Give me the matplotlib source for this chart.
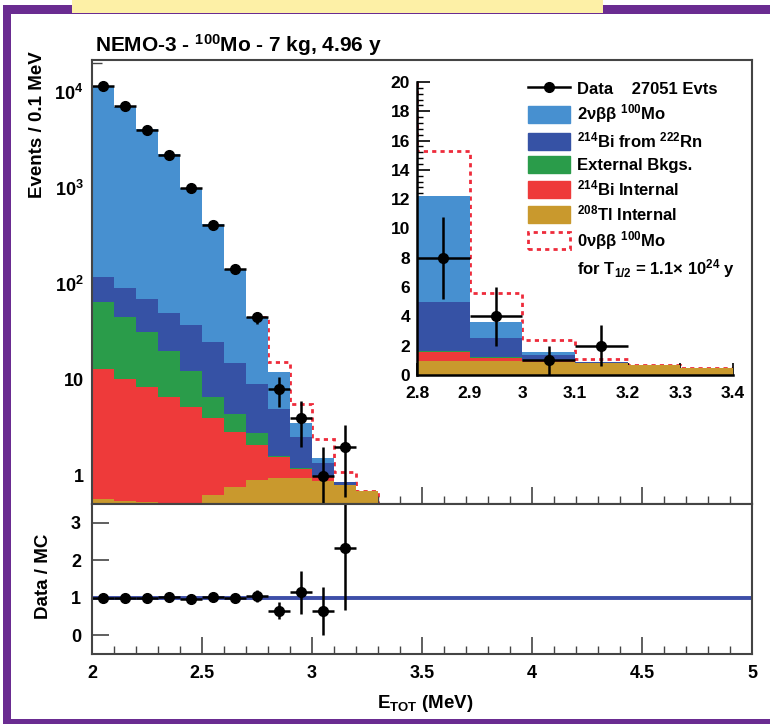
import numpy as np
import matplotlib
matplotlib.use("Agg")
import matplotlib.pyplot as plt
from matplotlib.patches import Rectangle, Patch
from matplotlib.lines import Line2D
from matplotlib.ticker import MultipleLocator, FixedLocator, LogLocator, NullFormatter, FuncFormatter

plt.rcParams['font.family'] = ['Liberation Sans', 'DejaVu Sans']
plt.rcParams['font.weight'] = 'bold'
plt.rcParams['mathtext.fontset'] = 'custom'
plt.rcParams['mathtext.rm'] = 'Liberation Sans:bold'
plt.rcParams['mathtext.it'] = 'Liberation Sans:italic:bold'
plt.rcParams['mathtext.bf'] = 'Liberation Sans:bold'

# bins of 0.1 MeV
bin_edges = [2.0, 2.1, 2.2, 2.3, 2.4, 2.5, 2.6, 2.7, 2.8, 2.9, 3.0, 3.1, 3.2, 3.3, 3.4]

# MC components, bottom to top of the stack
tl208_int = [0.58, 0.55, 0.53, 0.52, 0.51, 0.63, 0.77, 0.91, 0.95, 0.95, 0.88, 0.80, 0.70, 0.50]
bi214_int = [12.4, 9.65, 7.97, 6.18, 4.69, 3.37, 2.13, 1.19, 0.63, 0.22, 0.10, 0.0, 0.0, 0.0]
external = [52.0, 34.8, 23.5, 13.3, 7.3, 2.7, 1.5, 0.7, 0.04, 0.03, 0.02, 0.0, 0.0, 0.0]
bi214_rn = [53.0, 45.0, 37.0, 30.0, 24.5, 18.3, 10.6, 6.3, 3.38, 1.35, 0.38, 0.07, 0.0, 0.0]
two_nu = [11082, 6910, 4031, 2200, 963, 395, 130, 35.9, 7.2, 1.05, 0.17, 0.0, 0.0, 0.0]
zero_nu = [0.0, 0.0, 0.0, 0.0, 0.0, 0.0, 0.0, 0.4, 3.1, 2.0, 0.85, 0.23, 0.0, 0.0]

# data
data_x = [2.05, 2.15, 2.25, 2.35, 2.45, 2.55, 2.65, 2.75, 2.85, 2.95, 3.05, 3.15]
data_y = [11500, 7100, 4000, 2200, 990, 410, 142, 45, 8, 4, 1, 2]
data_err = [107, 84, 63, 47, 31, 20, 12, 6.7, 2.8, 2.0, 1.0, 1.4]

# data / MC
ratio_y = [1.0, 1.0, 0.99, 1.03, 0.98, 1.02, 1.0, 1.05, 0.66, 1.15, 0.65, 2.33]
ratio_err = [0.01, 0.01, 0.02, 0.02, 0.03, 0.05, 0.08, 0.15, 0.22, 0.57, 0.65, 1.65]

labels = ["2νββ $^{100}$Mo", "$^{214}$Bi from $^{222}$Rn", "External Bkgs.",
          "$^{214}$Bi Internal", "$^{208}$Tl Internal"]
colors = {"two_nu": "#4790d0", "bi214_rn": "#3652a5", "external": "#2a9c4a",
          "bi214_int": "#ee3a3a", "tl208_int": "#c9992d"}
sig_color = "#ee2b3b"
frame_col = "#444444"

stack = [tl208_int, bi214_int, external, bi214_rn, two_nu]
stack_cols = [colors["tl208_int"], colors["bi214_int"], colors["external"],
              colors["bi214_rn"], colors["two_nu"]]
tops = np.cumsum(np.array(stack), axis=0)
total_sig = tops[-1] + np.array(zero_nu)


def draw_stack(ax, base):
    # signal + background outline goes under the stack, shows where it sticks out
    outline = ax.stairs(total_sig, bin_edges, baseline=None, color=sig_color, lw=2,
                        linestyle=(0, (1.5, 1.5)), zorder=1)
    prev = np.full(len(bin_edges) - 1, base)
    for top, col in zip(tops, stack_cols):
        ax.stairs(top, bin_edges, baseline=prev, fill=True, color=col, lw=0, zorder=2)
        prev = top
    ax.errorbar(data_x, data_y, yerr=data_err, xerr=0.05, fmt='o', color='black',
                ms=7, elinewidth=1.8, capsize=0, zorder=5)
    return outline


def style(ax, lw=1.5):
    for s in ax.spines.values():
        s.set_color(frame_col)
        s.set_linewidth(lw)
        s.set_zorder(6)


fig = plt.figure(figsize=(7.7, 7.26), dpi=100)
W, H = 770.0, 726.0

def box(x0, y0, x1, y1):
    return [x0 / W, 1 - y1 / H, (x1 - x0) / W, (y1 - y0) / H]

# main log panel
ax = fig.add_axes(box(92, 60, 752, 504))
outline = draw_stack(ax, 1e-3)
# on the log plot the outline only shows up in the tail
outline.set_clip_path(Rectangle((2.76, 1e-3), 3, 1e6, transform=ax.transData))
ax.set_yscale('log')
ax.set_xlim(2, 5)
ax.set_ylim(0.51, 2.16e4)
ax.yaxis.set_major_locator(FixedLocator([1, 10, 100, 1000, 10000]))
ax.yaxis.set_major_formatter(FuncFormatter(
    lambda v, p: {1: "1", 10: "10", 100: "10$^{2}$", 1000: "10$^{3}$", 10000: "10$^{4}$"}.get(int(round(v)), "")))
ax.yaxis.set_minor_locator(LogLocator(base=10, subs=np.arange(2, 10), numticks=20))
ax.yaxis.set_minor_formatter(NullFormatter())
ax.xaxis.set_major_locator(MultipleLocator(0.5))
ax.xaxis.set_minor_locator(MultipleLocator(0.1))
ax.tick_params(axis='x', labelbottom=False)
ax.tick_params(axis='y', which='major', labelsize=13, length=14, width=1.2, pad=6)
ax.tick_params(axis='y', which='minor', length=7, width=1.0)
ax.tick_params(axis='x', which='major', length=12, width=1.2)
ax.tick_params(axis='x', which='minor', length=6, width=1.0)
ax.tick_params(which='both', direction='in', colors=frame_col, labelcolor='black')
style(ax)

# ratio panel
axr = fig.add_axes(box(92, 504, 752, 654))
axr.axhline(1, color="#3d4ea8", lw=2.8, zorder=2)
axr.errorbar(data_x, ratio_y, yerr=ratio_err, xerr=0.05, fmt='o', color='black',
             ms=7, elinewidth=1.8, capsize=0, zorder=5)
axr.set_xlim(2, 5)
axr.set_ylim(-0.5, 3.5)
axr.yaxis.set_major_locator(FixedLocator([0, 1, 2, 3]))
axr.xaxis.set_major_locator(MultipleLocator(0.5))
axr.xaxis.set_minor_locator(MultipleLocator(0.1))
axr.xaxis.set_major_formatter(FuncFormatter(lambda v, p: f"{v:g}"))
axr.tick_params(axis='both', which='major', labelsize=13, width=1.2, direction='in',
                colors=frame_col, labelcolor='black')
axr.tick_params(axis='x', which='major', length=12, pad=8)
axr.tick_params(axis='y', which='major', length=12, pad=8)
axr.tick_params(axis='x', which='minor', length=6, width=1.0, direction='in', colors=frame_col)
style(axr)

# inset, linear scale
axi = fig.add_axes(box(417, 82, 733, 375))
draw_stack(axi, 0)
axi.set_xlim(2.8, 3.4)
axi.set_ylim(0, 20)
axi.spines['top'].set_visible(False)
axi.spines['right'].set_visible(False)
axi.patch.set_alpha(0)
axi.yaxis.set_major_locator(MultipleLocator(2))
axi.yaxis.set_minor_locator(MultipleLocator(0.4))
axi.xaxis.set_major_locator(MultipleLocator(0.1))
axi.xaxis.set_minor_locator(MultipleLocator(0.02))
axi.xaxis.set_major_formatter(FuncFormatter(lambda v, p: f"{v:g}"))
axi.yaxis.set_major_formatter(FuncFormatter(lambda v, p: f"{v:g}"))
axi.tick_params(which='major', labelsize=12.5, length=9, width=1.2, direction='in',
                colors='black')
axi.tick_params(axis='x', which='major', pad=8)
axi.tick_params(axis='y', which='major', pad=5)
axi.tick_params(which='minor', length=4.5, width=1.0, direction='in', colors='black')
for side in ('left', 'bottom'):
    axi.spines[side].set_color('black')
    axi.spines[side].set_linewidth(1.8)
    axi.spines[side].set_zorder(6)

handles = [Line2D([], [], color='black', marker='o', ms=7, lw=1.8)]
for col in stack_cols[::-1]:
    handles.append(Patch(facecolor=col, edgecolor=col))
handles.append(Patch(facecolor='none', edgecolor=sig_color, linestyle=(0, (1.5, 1.5)), lw=2))
handles.append(Patch(facecolor='none', edgecolor='none'))
leg_labels = ["Data    27051 Evts"] + labels + ["0νββ $^{100}$Mo", "for T$_{1/2}$ = 1.1× 10$^{24}$ y"]
leg = axi.legend(handles, leg_labels, loc='upper left', bbox_to_anchor=(0.33, 1.03),
                 frameon=False, fontsize=12, handlelength=2.5, handleheight=1.2,
                 labelspacing=0.32, handletextpad=0.45, borderaxespad=0)

# texts
fig.text(95 / W, 1 - 45 / H, "NEMO-3 - $^{100}$Mo - 7 kg, 4.96 y", fontsize=15,
         ha='left', va='center')
fig.text(38 / W, 1 - 125 / H, "Events / 0.1 MeV", fontsize=13.5, rotation=90,
         ha='center', va='center')
fig.text(44 / W, 1 - 576 / H, "Data / MC", fontsize=13.5, rotation=90,
         ha='center', va='center')
fig.text(425 / W, 1 - 703 / H, "E$_{\\mathrm{TOT}}$ (MeV)", fontsize=13.5,
         ha='center', va='center')

# slide frame
purple = "#6a2c91"
fig.add_artist(Rectangle((3 / W, 1 - 724 / H), 8 / W, 715 / H, transform=fig.transFigure,
                         color=purple, lw=0))
fig.add_artist(Rectangle((3 / W, 1 - 14 / H), 767 / W, 9 / H, transform=fig.transFigure,
                         color=purple, lw=0))
fig.add_artist(Rectangle((3 / W, 1 - 724 / H), 767 / W, 5 / H, transform=fig.transFigure,
                         color=purple, lw=0))
fig.add_artist(Rectangle((72 / W, 1 - 13 / H), 531 / W, 13 / H, transform=fig.transFigure,
                         color="#fdf0a6", lw=0))

fig.savefig("out.png", dpi=100)
